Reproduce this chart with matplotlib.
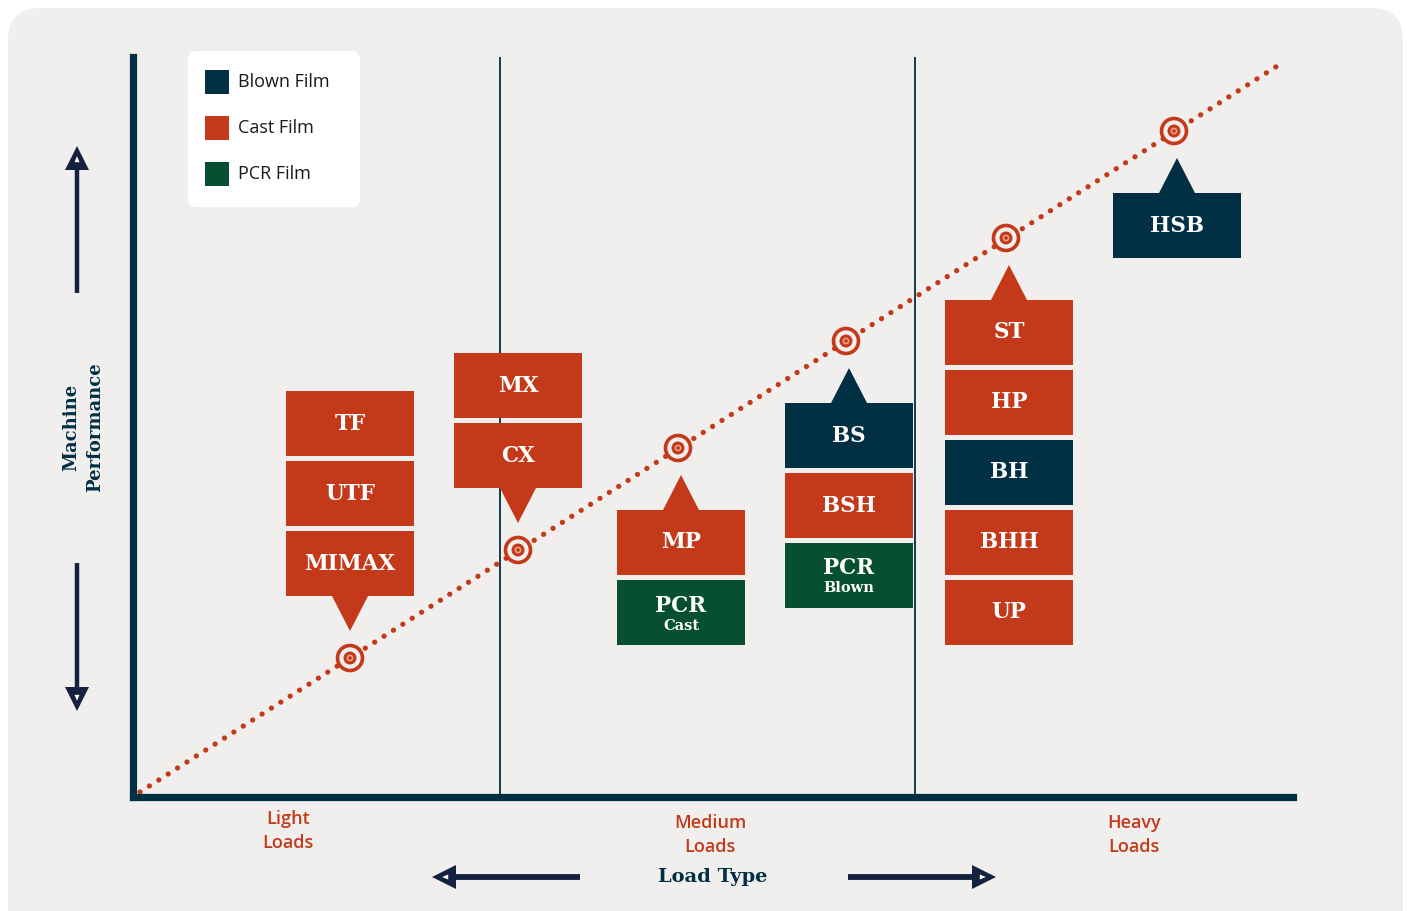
import matplotlib.pyplot as plt
from matplotlib.patches import Rectangle, Polygon, Circle, FancyBboxPatch

# colours
BG = '#f0efed'
NAVY = '#012f43'
ORANGE = '#c4391a'
GREEN = '#064f30'
ARROW = '#14213f'
film_colors = {'Blown': NAVY, 'Cast': ORANGE, 'PCR': GREEN}

# data (chart units: load along x, machine performance along y)
target_load = [217, 385, 545, 713, 873, 1041]
target_perf = [139, 247, 349, 456, 559, 666]
trend_load = [7, 1152]
trend_perf = [5, 736]
dividers = [367, 782]

stack_labels = [
    ['TF', 'UTF', 'MIMAX'],
    ['MX', 'CX'],
    ['MP', 'PCR'],
    ['BS', 'BSH', 'PCR'],
    ['ST', 'HP', 'BH', 'BHH', 'UP'],
    ['HSB'],
]
stack_types = [
    ['Cast', 'Cast', 'Cast'],
    ['Cast', 'Cast'],
    ['Cast', 'PCR'],
    ['Blown', 'Cast', 'PCR'],
    ['Cast', 'Cast', 'Blown', 'Cast', 'Cast'],
    ['Blown'],
]
stack_sub = [
    [None, None, None],
    [None, None],
    [None, 'Cast'],
    [None, None, 'Blown'],
    [None] * 5,
    [None],
]
stack_above = [True, True, False, False, False, False]

legend_labels = ['Blown Film', 'Cast Film', 'PCR Film']
legend_types = ['Blown', 'Cast', 'PCR']

load_labels = ['Light\nLoads', 'Medium\nLoads', 'Heavy\nLoads']
load_label_x = [288, 710, 1134]
load_label_y = [831, 835, 835]

BOX_W, BOX_H, PITCH = 128, 65, 70
TIP_GAP, TIP_H, TIP_W = 27, 35, 36

W, H = 1407, 911
fig = plt.figure(figsize=(W / 100, H / 100), dpi=100)
fig.patch.set_facecolor('white')

# background panel + decorations, in pixel coords
bg = fig.add_axes([0, 0, 1, 1])
bg.set_xlim(0, W)
bg.set_ylim(H, 0)
bg.axis('off')
bg.add_patch(FancyBboxPatch((8, 8), 1395, 940, boxstyle='round,pad=0,rounding_size=32',
                            fc=BG, ec='none'))

# main chart axes
ax = fig.add_axes([133 / W, (H - 797) / H, 1160 / W, 740 / H])
ax.set_xlim(0, 1160)
ax.set_ylim(0, 740)
ax.patch.set_alpha(0)
for s in ['top', 'right']:
    ax.spines[s].set_visible(False)
for s in ['left', 'bottom']:
    ax.spines[s].set_color(NAVY)
    ax.spines[s].set_linewidth(5.2)
    ax.spines[s].set_capstyle('projecting')
ax.set_xticks([])
ax.set_yticks([])

for d in dividers:
    ax.axvline(d, color=NAVY, lw=1.3, zorder=1)

ax.plot(trend_load, trend_perf, color=ORANGE, lw=3.8, linestyle=(0, (0.01, 2.1)),
        dash_capstyle='round', zorder=2)

for x, y in zip(target_load, target_perf):
    ax.add_patch(Circle((x, y), 12.5, fc=BG, ec=ORANGE, lw=2.6, zorder=3))
    ax.add_patch(Circle((x, y), 6.5, fc=ORANGE, ec='none', zorder=4))
    ax.add_patch(Circle((x, y), 3.4, fc='#e9a28a', ec='none', zorder=5))
    ax.add_patch(Circle((x, y), 1.8, fc=ORANGE, ec='none', zorder=6))

txt = dict(color='white', fontfamily='DejaVu Serif', fontweight='bold',
           ha='center', va='center', zorder=8)

for x, y, labels, types, subs, above in zip(target_load, target_perf, stack_labels,
                                            stack_types, stack_sub, stack_above):
    n = len(labels)
    if above:
        bx = x
        tip = y + TIP_GAP
        base = tip + TIP_H
        top_edge = base + (n - 1) * PITCH + BOX_H
        first_col = film_colors[types[-1]]
    else:
        bx = x + 3
        tip = y - TIP_GAP
        base = tip - TIP_H
        top_edge = base
        first_col = film_colors[types[0]]
    ax.add_patch(Polygon([(bx, tip), (bx - TIP_W / 2, base), (bx + TIP_W / 2, base)],
                         closed=True, fc=first_col, ec='none', zorder=7))
    for i, (lab, t, sub) in enumerate(zip(labels, types, subs)):
        y0 = top_edge - i * PITCH - BOX_H
        ax.add_patch(Rectangle((bx - BOX_W / 2, y0), BOX_W, BOX_H,
                               fc=film_colors[t], ec='none', zorder=7))
        cy = y0 + BOX_H / 2
        if sub:
            ax.text(bx, cy + 7, lab, fontsize=15.5, **txt)
            ax.text(bx, cy - 13, sub, fontsize=10.5, **txt)
        else:
            ax.text(bx, cy, lab, fontsize=15.5, **txt)

# legend
bg.add_patch(FancyBboxPatch((188, 51), 172, 156, boxstyle='round,pad=0,rounding_size=8',
                            fc='white', ec='none'))
for i, (lab, t) in enumerate(zip(legend_labels, legend_types)):
    yy = 82 + i * 46
    bg.add_patch(Rectangle((205, yy - 12), 24, 24, fc=film_colors[t], ec='none'))
    bg.text(238, yy, lab, fontsize=13, fontfamily='Open Sans', color='#1a1a1a',
            ha='left', va='center')

# y label and arrows
bg.text(83, 427, 'Machine\nPerformance', rotation=90, ha='center', va='center',
        multialignment='center', fontsize=13, fontfamily='DejaVu Serif',
        fontweight='bold', color=NAVY, linespacing=1.4)


def arrow(x0, y0, x1, y1, lw, head_len, head_half):
    dx, dy = x1 - x0, y1 - y0
    L = (dx ** 2 + dy ** 2) ** 0.5
    ux, uy = dx / L, dy / L
    bx, by = x1 - ux * head_len, y1 - uy * head_len
    bg.plot([x0, bx + ux * 2], [y0, by + uy * 2], color=ARROW, lw=lw, solid_capstyle='butt')
    px, py = -uy, ux
    bg.add_patch(Polygon([(x1, y1), (bx + px * head_half, by + py * head_half),
                          (bx - px * head_half, by - py * head_half)], closed=True,
                         fc=ARROW, ec='none'))
    cx, cy = x1 - ux * head_len * 0.55, y1 - uy * head_len * 0.55
    bg.add_patch(Polygon([(cx + ux * 3, cy + uy * 3), (cx - ux * 3 + px * 2.5, cy - uy * 3 + py * 2.5),
                          (cx - ux * 3 - px * 2.5, cy - uy * 3 - py * 2.5)], closed=True,
                         fc='white', ec='none'))


arrow(77, 293, 77, 146, 3.2, 24, 12)
arrow(77, 563, 77, 711, 3.2, 24, 12)
arrow(580, 877, 432, 877, 4.2, 24, 12)
arrow(848, 877, 996, 877, 4.2, 24, 12)

bg.text(713, 877, 'Load Type', ha='center', va='center', fontsize=14,
        fontfamily='DejaVu Serif', fontweight='bold', color=NAVY)

for lab, lx, ly in zip(load_labels, load_label_x, load_label_y):
    bg.text(lx, ly, lab, ha='center', va='center', fontsize=13, fontfamily='Open Sans',
            fontweight='semibold', color=ORANGE, linespacing=1.4)

fig.savefig('out.png', dpi=100, facecolor=fig.get_facecolor())
